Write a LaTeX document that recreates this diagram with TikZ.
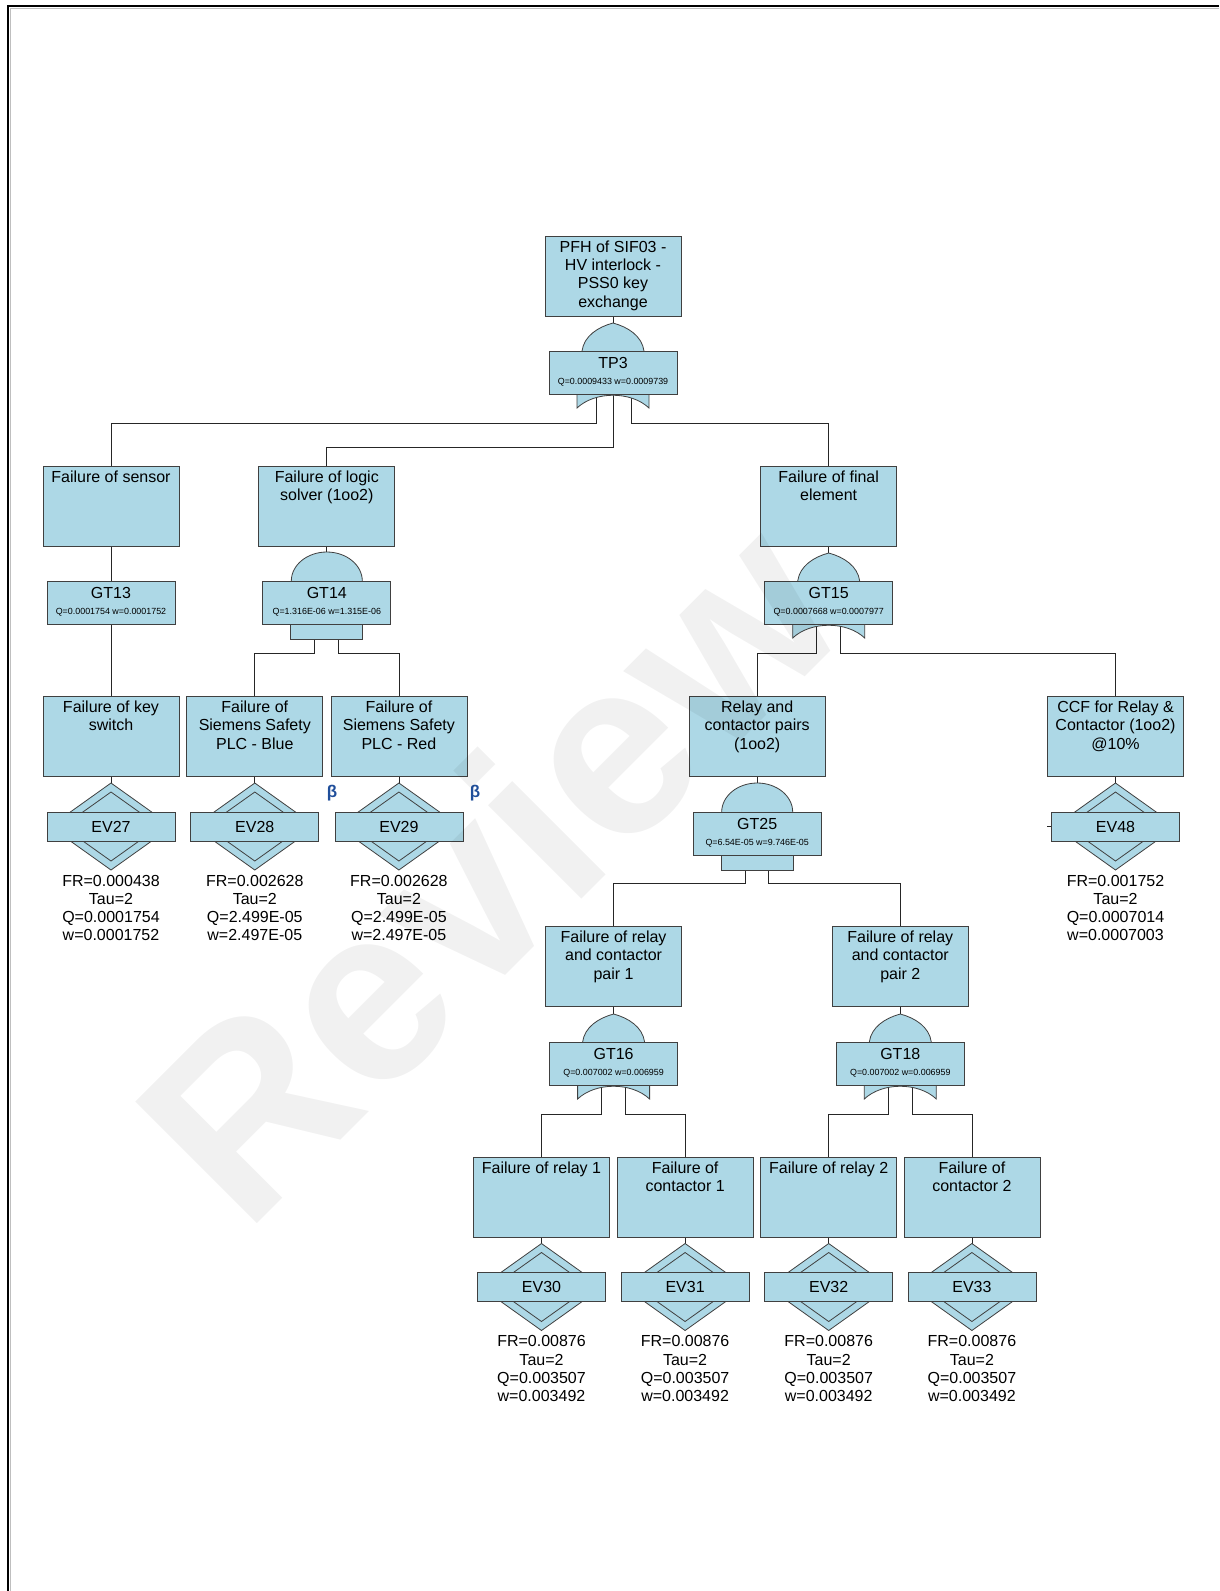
\documentclass[tikz,border=0pt]{standalone}
\usepackage{fontspec}
\setmainfont{Liberation Sans}
\newfontfamily\qfont{Liberation Sans}
\usetikzlibrary{calc}
\pgfdeclarelayer{paper}
\pgfdeclarelayer{bg}
\pgfdeclarelayer{fg}
\pgfsetlayers{paper,bg,main,fg}
\definecolor{boxfill}{HTML}{ADD8E6}
\definecolor{boxline}{HTML}{404040}
\definecolor{betablue}{HTML}{1F4E9A}
\tikzset{
  evbox/.style={draw=boxline, fill=boxfill, line width=0.8pt, minimum width=136pt, minimum height=80pt, inner sep=0pt},
  evtext/.style={anchor=north, align=center, inner sep=0pt, font=\fontsize{16}{18.2}\selectfont},
  gatebox/.style={draw=boxline, fill=boxfill, line width=0.8pt, minimum width=128pt, minimum height=43pt, inner sep=0pt},
  gatelabel/.style={inner sep=0pt, font=\fontsize{16}{18}\selectfont},
  qlabel/.style={inner sep=0pt, font=\qfont\fontsize{8.9}{10}\selectfont},
  evrect/.style={draw=boxline, fill=boxfill, line width=0.8pt, minimum width=128pt, minimum height=29pt, inner sep=0pt, font=\fontsize{16}{18}\selectfont},
  gshape/.style={draw=boxline, fill=boxfill, line width=0.8pt},
  conn/.style={draw=black!85, line width=0.8pt},
  datatext/.style={anchor=north, align=center, inner sep=0pt, font=\fontsize{16}{18.2}\selectfont},
  betatext/.style={inner sep=0pt, text=betablue, font=\fontsize{17}{18}\selectfont\bfseries},
}
\newcommand\EvBox[4]{%
  \node[evbox] (#1) at (#2,#3+40) {};
  \node[evtext] (#1-t) at ($(#1.north)+(0,5.2)$) {#4};
}
\newcommand\GateBox[5]{%
  \node[gatebox] (#1) at (#2,#3+21.5) {};
  \node[gatelabel] (#1-l) at ($(#1.north)+(0,12)$) {#4};
  \node[qlabel] (#1-q) at ($(#1.north)+(0,31.5)$) {#5};
}
\newcommand\OrGate[5]{%
  \filldraw[gshape] (#2-31,#3) .. controls (#2-29,#3-15) and (#2-15,#3-24) .. (#2,#3-28) .. controls (#2+15,#3-24) and (#2+29,#3-15) .. (#2+31,#3);
  \filldraw[gshape] (#2-36,#3+43) -- (#2-36,#3+57) .. controls (#2-18,#3+40) and (#2+18,#3+40) .. (#2+36,#3+57) -- (#2+36,#3+43);
  \GateBox{#1}{#2}{#3}{#4}{#5}%
}
\newcommand\AndGate[5]{%
  \filldraw[gshape] (#2-35.5,#3) .. controls (#2-35.5,#3-16) and (#2-19.6,#3-29) .. (#2,#3-29) .. controls (#2+19.6,#3-29) and (#2+35.5,#3-16) .. (#2+35.5,#3);
  \filldraw[gshape] (#2-36,#3+43) rectangle (#2+36,#3+58);
  \GateBox{#1}{#2}{#3}{#4}{#5}%
}
\newcommand\EvDiamond[4]{%
  \filldraw[gshape] (#2,#3-43.5) -- (#2+61,#3) -- (#2,#3+43.5) -- (#2-61,#3) -- cycle;
  \draw[boxline, line width=0.8pt] (#2,#3-34.5) -- (#2+48.5,#3) -- (#2,#3+34.5) -- (#2-48.5,#3) -- cycle;
  \node[evrect] (#1) at (#2,#3) {#4};
}
\begin{document}
\begin{tikzpicture}[x=1pt,y=-1pt]
\useasboundingbox (0,0) rectangle (1219,1591);
\begin{pgfonlayer}{paper}
\fill[white] (0,0) rectangle (1219,1591);
\draw[black, line width=1.6pt] (1219,6) -- (8,6) -- (8,1591);
\draw[black!25, line width=0.8pt] (1219,8.2) -- (10.2,8.2) -- (10.2,1591);
\end{pgfonlayer}

% top
\EvBox{top}{613}{236}{PFH of SIF03 -\\HV interlock -\\PSS0 key\\exchange}
\OrGate{tp3}{613}{351}{TP3}{Q=0.0009433 w=0.0009739}

% level 2
\EvBox{sensor}{111}{466}{Failure of sensor}
\EvBox{logic}{326.8}{466}{Failure of logic\\solver (1oo2)}
\EvBox{final}{828.7}{466}{Failure of final\\element}
\GateBox{gt13}{111}{581}{GT13}{Q=0.0001754 w=0.0001752}
\AndGate{gt14}{326.8}{581}{GT14}{Q=1.316E-06 w=1.315E-06}
\OrGate{gt15}{828.7}{581}{GT15}{Q=0.0007668 w=0.0007977}

% level 3
\EvBox{keysw}{111}{696}{Failure of key\\switch}
\EvBox{blue}{254.8}{696}{Failure of\\Siemens Safety\\PLC - Blue}
\EvBox{red}{398.9}{696}{Failure of\\Siemens Safety\\PLC - Red}
\EvBox{relpairs}{757.2}{696}{Relay and\\contactor pairs\\(1oo2)}
\EvBox{ccf}{1115.5}{696}{CCF for Relay \&\\Contactor (1oo2)\\@10\%}
\EvDiamond{ev27}{111}{826.5}{EV27}
\EvDiamond{ev28}{254.8}{826.5}{EV28}
\EvDiamond{ev29}{398.9}{826.5}{EV29}
\EvDiamond{ev48}{1115.5}{826.5}{EV48}
\AndGate{gt25}{757.2}{812}{GT25}{Q=6.54E-05 w=9.746E-05}
\node[datatext] (ev27-d) at (111,875) {FR=0.000438\\Tau=2\\Q=0.0001754\\w=0.0001752};
\node[datatext] (ev28-d) at (254.8,875) {FR=0.002628\\Tau=2\\Q=2.499E-05\\w=2.497E-05};
\node[datatext] (ev29-d) at (398.9,875) {FR=0.002628\\Tau=2\\Q=2.499E-05\\w=2.497E-05};
\node[datatext] (ev48-d) at (1115.5,875) {FR=0.001752\\Tau=2\\Q=0.0007014\\w=0.0007003};
\node[betatext] (beta1) at (332,793) {β};
\node[betatext] (beta2) at (475,793) {β};

% level 4
\EvBox{pair1}{613.6}{926}{Failure of relay\\and contactor\\pair 1}
\EvBox{pair2}{900.3}{926}{Failure of relay\\and contactor\\pair 2}
\OrGate{gt16}{613.6}{1042}{GT16}{Q=0.007002 w=0.006959}
\OrGate{gt18}{900.3}{1042}{GT18}{Q=0.007002 w=0.006959}

% level 5
\EvBox{relay1}{541.5}{1157}{Failure of relay 1}
\EvBox{cont1}{685.1}{1157}{Failure of\\contactor 1}
\EvBox{relay2}{828.7}{1157}{Failure of relay 2}
\EvBox{cont2}{971.9}{1157}{Failure of\\contactor 2}
\EvDiamond{ev30}{541.5}{1287}{EV30}
\EvDiamond{ev31}{685.1}{1287}{EV31}
\EvDiamond{ev32}{828.7}{1287}{EV32}
\EvDiamond{ev33}{971.9}{1287}{EV33}
\node[datatext] (ev30-d) at (541.5,1335.5) {FR=0.00876\\Tau=2\\Q=0.003507\\w=0.003492};
\node[datatext] (ev31-d) at (685.1,1335.5) {FR=0.00876\\Tau=2\\Q=0.003507\\w=0.003492};
\node[datatext] (ev32-d) at (828.7,1335.5) {FR=0.00876\\Tau=2\\Q=0.003507\\w=0.003492};
\node[datatext] (ev33-d) at (971.9,1335.5) {FR=0.00876\\Tau=2\\Q=0.003507\\w=0.003492};

\coordinate (stub) at (1047,826.5);

\begin{pgfonlayer}{bg}
\draw[conn] (top.south) -- (tp3.north);
\draw[conn] ([xshift=-17pt]tp3.south) -- ++(0,29) -| (sensor.north);
\draw[conn] (tp3.south) -- ++(0,53) -| (logic.north);
\draw[conn] ([xshift=18pt]tp3.south) -- ++(0,29) -| (final.north);
\draw[conn] (sensor.south) -- (keysw.north);
\draw[conn] (logic.south) -- (gt14.north);
\draw[conn] (final.south) -- (gt15.north);
\draw[conn] ([xshift=-12pt]gt14.south) -- ++(0,29) -| (blue.north);
\draw[conn] ([xshift=12pt]gt14.south) -- ++(0,29) -| (red.north);
\draw[conn] ([xshift=-12pt]gt15.south) -- ++(0,29) -| (relpairs.north);
\draw[conn] ([xshift=12pt]gt15.south) -- ++(0,29) -| (ccf.north);
\draw[conn] (keysw.south) -- (ev27.north);
\draw[conn] (blue.south) -- (ev28.north);
\draw[conn] (red.south) -- (ev29.north);
\draw[conn] (ccf.south) -- (ev48.north);
\draw[conn] (stub) -- (ev48.west);
\draw[conn] (relpairs.south) -- (gt25.north);
\draw[conn] ([xshift=-12pt]gt25.south) -- ++(0,28) -| (pair1.north);
\draw[conn] ([xshift=11pt]gt25.south) -- ++(0,28) -| (pair2.north);
\draw[conn] (pair1.south) -- (gt16.north);
\draw[conn] (pair2.south) -- (gt18.north);
\draw[conn] ([xshift=-12pt]gt16.south) -- ++(0,29) -| (relay1.north);
\draw[conn] ([xshift=12pt]gt16.south) -- ++(0,29) -| (cont1.north);
\draw[conn] ([xshift=-12pt]gt18.south) -- ++(0,29) -| (relay2.north);
\draw[conn] ([xshift=12pt]gt18.south) -- ++(0,29) -| (cont2.north);
\draw[conn] (relay1.south) -- (ev30.north);
\draw[conn] (cont1.south) -- (ev31.north);
\draw[conn] (relay2.south) -- (ev32.north);
\draw[conn] (cont2.south) -- (ev33.north);
\end{pgfonlayer}

\begin{pgfonlayer}{fg}
\node[rotate=45, text=black, text opacity=0.055, inner sep=0pt, font=\fontsize{250}{250}\selectfont\bfseries] (wm) at (487,868) {Review};
\end{pgfonlayer}
\end{tikzpicture}
\end{document}
